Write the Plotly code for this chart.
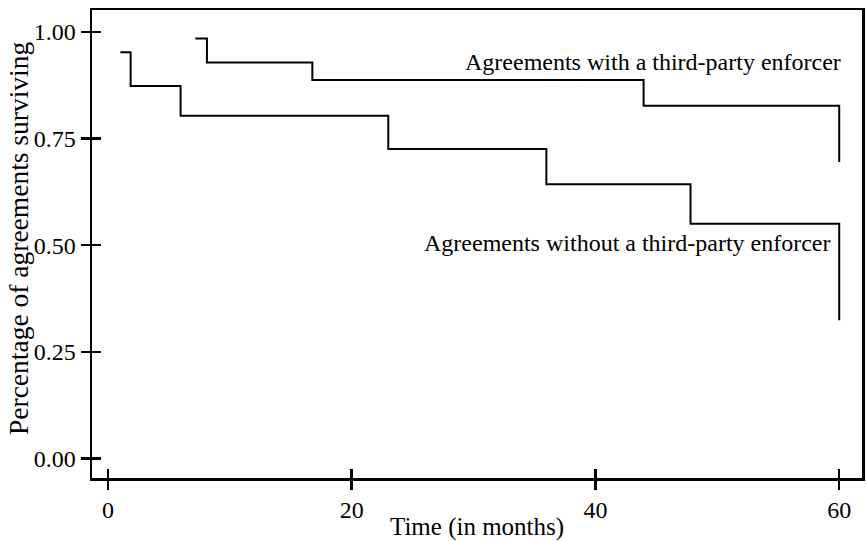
import plotly.graph_objects as go

# Kaplan-Meier style survival steps (time in months, proportion surviving)
time_with = [7.17, 8.12, 16.77, 43.95, 60.0]
surv_with = [0.9845, 0.928, 0.887, 0.8265, 0.695]

time_without = [1.02, 1.86, 5.96, 23.0, 35.97, 47.8, 60.0]
surv_without = [0.952, 0.873, 0.803, 0.7255, 0.643, 0.5504, 0.324]

x_ticks = [0, 20, 40, 60]
y_ticks = [0.0, 0.25, 0.5, 0.75, 1.0]
y_tick_labels = ["0.00", "0.25", "0.50", "0.75", "1.00"]

label_with = "Agreements with a third-party enforcer"
label_without = "Agreements without a third-party enforcer"
x_title = "Time (in months)"
y_title = "Percentage of agreements surviving"

FONT = "Liberation Serif, Times New Roman, Times, serif"
x_range = [-1.31, 61.87]
y_range = [-0.0455, 1.051]

fig = go.Figure()
fig.add_trace(go.Scatter(x=time_with, y=surv_with, mode="lines",
                         line=dict(shape="hv", color="black", width=2),
                         showlegend=False, hoverinfo="skip"))
fig.add_trace(go.Scatter(x=time_without, y=surv_without, mode="lines",
                         line=dict(shape="hv", color="black", width=2),
                         showlegend=False, hoverinfo="skip"))

# invisible trace on overlay axes so they render
fig.add_trace(go.Scatter(x=[None], y=[None], xaxis="x2", yaxis="y2",
                         showlegend=False, hoverinfo="skip"))

fig.add_annotation(x=60.3, y=0.929, text=label_with, showarrow=False,
                   xanchor="right", yanchor="middle",
                   font=dict(family=FONT, size=24, color="black"))
fig.add_annotation(x=59.45, y=0.505, text=label_without, showarrow=False,
                   xanchor="right", yanchor="middle",
                   font=dict(family=FONT, size=24, color="black"))

# axis titles
fig.add_annotation(x=0.5, y=0, xref="paper", yref="paper", yshift=-49,
                   text=x_title, showarrow=False, xanchor="center", yanchor="middle",
                   font=dict(family=FONT, size=25, color="black"))
fig.add_annotation(x=0, y=0.5, xref="paper", yref="paper", xshift=-74, yshift=6,
                   text=y_title, showarrow=False, textangle=-90,
                   xanchor="center", yanchor="middle",
                   font=dict(family=FONT, size=27.5, color="black"))

axis_common = dict(showgrid=False, zeroline=False, color="black", automargin=False)

fig.update_layout(
    template="none",
    width=867, height=541,
    margin=dict(l=92, r=5, t=10, b=63),
    paper_bgcolor="white", plot_bgcolor="white",
    font=dict(family=FONT, size=24, color="black"),
    xaxis=dict(range=x_range, tickvals=x_ticks, ticktext=[str(v) for v in x_ticks],
               ticks="outside", ticklen=9, tickwidth=2.5, tickcolor="black",
               showline=True, linewidth=2.5, linecolor="black", mirror=True,
               tickfont=dict(family=FONT, size=24),
               **axis_common),
    yaxis=dict(range=y_range, tickvals=y_ticks, ticktext=y_tick_labels,
               ticks="outside", ticklen=9, tickwidth=2.5, tickcolor="black",
               showline=True, linewidth=2.5, linecolor="black", mirror=True,
               tickfont=dict(family=FONT, size=24),
               **axis_common),
    xaxis2=dict(range=x_range, tickvals=x_ticks, showticklabels=False,
                ticks="inside", ticklen=9, tickwidth=2.5, tickcolor="black",
                overlaying="x", side="bottom", showline=False, **axis_common),
    yaxis2=dict(range=y_range, tickvals=y_ticks, showticklabels=False,
                ticks="inside", ticklen=9, tickwidth=2.5, tickcolor="black",
                overlaying="y", side="left", showline=False, **axis_common),
)

fig.write_html("out.html", config={"displayModeBar": False, "staticPlot": True},
               post_script="document.body.style.margin='0';")
